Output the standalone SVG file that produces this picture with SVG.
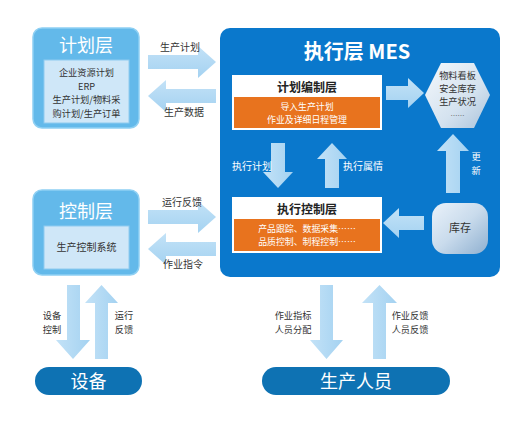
<svg xmlns="http://www.w3.org/2000/svg" width="517" height="422" viewBox="0 0 517 422">
<defs>
<linearGradient id="arrH" x1="0" y1="0" x2="0" y2="1"><stop offset="0" stop-color="#c3e2f7"/><stop offset="1" stop-color="#a4d2f1"/></linearGradient>
<linearGradient id="arrV" x1="0" y1="0" x2="1" y2="0"><stop offset="0" stop-color="#c3e2f7"/><stop offset="1" stop-color="#a4d2f1"/></linearGradient>
<linearGradient id="hex" x1="0" y1="0" x2="1" y2="1"><stop offset="0" stop-color="#f4f8fc"/><stop offset="0.6" stop-color="#d4e2ef"/><stop offset="1" stop-color="#a9c2da"/></linearGradient>
<linearGradient id="kc" x1="0" y1="0" x2="1" y2="1"><stop offset="0" stop-color="#eaf2fa"/><stop offset="0.5" stop-color="#c9dbec"/><stop offset="1" stop-color="#8fb0d0"/></linearGradient>
<style>
.cj{font-family:"Noto Sans CJK SC","Noto Sans",sans-serif;text-anchor:middle}
.lbl{font-size:10px;fill:#333}
.ml{font-size:9.2px;fill:#333}
.wl{font-size:10px;fill:#fff}
.ttl{font-size:18px;fill:#fff}
.inner{font-size:9.2px;fill:#333}
.sub{font-size:12px;font-weight:bold;fill:#222}
.or{font-size:8.9px;fill:#fff}
.ah{fill:url(#arrH)}
.av{fill:url(#arrV)}
.outer{fill:#63b9ea;stroke:#8fd0f3;stroke-width:1.5}
.in{fill:#cfe7f8;stroke:#8fcbef;stroke-width:1}
</style>
</defs>
<rect width="517" height="422" fill="#fff"/>

<g id="plan-layer">
<rect class="outer" x="33" y="28" width="106" height="100" rx="9"/>
<text class="cj ttl" x="86" y="52">计划层</text>
<rect class="in" x="44" y="60" width="85" height="63"/>
<text class="cj inner" x="86.5" y="76">企业资源计划</text>
<text class="cj inner" x="86.5" y="89.5">ERP</text>
<text class="cj inner" x="86.5" y="103">生产计划/物料采</text>
<text class="cj inner" x="86.5" y="116.5">购计划/生产订单</text>
</g>

<g id="control-layer">
<rect class="outer" x="33" y="190" width="106" height="85" rx="9"/>
<text class="cj ttl" x="86" y="218">控制层</text>
<rect class="in" x="44" y="226" width="85" height="43"/>
<text class="cj" x="86.5" y="251" font-size="10" fill="#333">生产控制系统</text>
</g>

<g id="mes">
<rect x="220" y="28" width="280" height="249" rx="10" fill="#0a78cc"/>
<text class="cj" x="357" y="59" font-size="20" font-weight="bold" fill="#fff">执行层 MES</text>
</g>

<g id="plan-edit">
<rect x="232" y="75" width="150" height="55" fill="#fff"/>
<rect x="234" y="97" width="146" height="31" fill="#e8731e"/>
<text class="cj sub" x="307" y="92">计划编制层</text>
<text class="cj or" x="307" y="110">导入生产计划</text>
<text class="cj or" x="307" y="123">作业及详细日程管理</text>
</g>

<g id="exec-control">
<rect x="232" y="197" width="150" height="56" fill="#fff"/>
<rect x="234" y="219" width="146" height="32" fill="#e8731e"/>
<text class="cj sub" x="307" y="214">执行控制层</text>
<text class="cj or" x="307" y="232">产品跟踪、数据采集……</text>
<text class="cj or" x="307" y="245">品质控制、制程控制……</text>
</g>

<g id="board">
<polygon points="425,95 441,63 474,63 490,95 474,128 441,128" fill="url(#hex)"/>
<text class="cj" x="457.5" y="79" font-size="9.2" fill="#333">物料看板</text>
<text class="cj" x="457.5" y="92" font-size="9.2" fill="#333">安全库存</text>
<text class="cj" x="457.5" y="105" font-size="9.2" fill="#333">生产状况</text>
<text class="cj" x="457.5" y="118" font-size="7" fill="#666">……</text>
</g>

<g id="stock">
<rect x="432" y="203" width="56" height="51" rx="14" fill="url(#kc)"/>
<text class="cj" x="460" y="232" font-size="11" fill="#333">库存</text>
</g>

<g id="equipment">
<rect x="35" y="367" width="107" height="28" rx="14" fill="#0e72b3"/>
<text class="cj" x="88.5" y="388" font-size="18" fill="#fff">设备</text>
</g>

<g id="staff">
<rect x="262" y="367" width="188" height="28" rx="14" fill="#0e72b3"/>
<text class="cj" x="356" y="388" font-size="18" fill="#fff">生产人员</text>
</g>

<g id="connectors">
<path class="ah" d="M148,55 L198,55 L198,46 L216,62 L198,78 L198,69 L148,69 Z"/>
<path class="ah" d="M216,89 L166,89 L166,80 L148,96 L166,112 L166,103 L216,103 Z"/>
<path class="ah" d="M148,210 L198,210 L198,201 L216,217 L198,233 L198,224 L148,224 Z"/>
<path class="ah" d="M216,242 L166,242 L166,233 L148,249 L166,265 L166,256 L216,256 Z"/>

<path class="ah" d="M386,86 L408,86 L408,78 L424,93 L408,108 L408,100 L386,100 Z"/>
<path class="ah" d="M424,216 L399,216 L399,208 L383,223 L399,238 L399,230 L424,230 Z"/>
<path class="av" d="M271,143 L285,143 L285,172 L293,172 L278,188 L263,172 L271,172 Z"/>
<path class="av" d="M325,188 L339,188 L339,159 L347,159 L332,143 L317,159 L325,159 Z"/>
<path class="av" d="M446,193 L460,193 L460,151 L469,151 L453,134 L437,151 L446,151 Z"/>

<path class="av" d="M67,285 L80,285 L80,340 L90,340 L73,359 L56,340 L67,340 Z"/>
<path class="av" d="M95,359 L108,359 L108,303 L118,303 L101.5,285 L85,303 L95,303 Z"/>
<path class="av" d="M320,285 L333,285 L333,340 L343,340 L326.5,359 L310,340 L320,340 Z"/>
<path class="av" d="M373,359 L386,359 L386,303 L397,303 L379.5,285 L362,303 L373,303 Z"/>

<text class="cj lbl" x="180" y="51">生产计划</text>
<text class="cj lbl" x="184" y="116">生产数据</text>
<text class="cj lbl" x="182" y="206">运行反馈</text>
<text class="cj lbl" x="183" y="268">作业指令</text>
<text class="cj wl" x="252" y="170">执行计划</text>
<text class="cj wl" x="363" y="170">执行属情</text>
<text class="cj" x="476" y="160" font-size="9.2" fill="#fff">更</text>
<text class="cj" x="476" y="173.5" font-size="9.2" fill="#fff">新</text>
<text class="cj ml" x="52" y="319">设备</text>
<text class="cj ml" x="52" y="332.5">控制</text>
<text class="cj ml" x="124" y="319">运行</text>
<text class="cj ml" x="124" y="332.5">反馈</text>
<text class="cj ml" x="293" y="319">作业指标</text>
<text class="cj ml" x="293" y="332.5">人员分配</text>
<text class="cj ml" x="410" y="319">作业反馈</text>
<text class="cj ml" x="410" y="332.5">人员反馈</text>
</g>
</svg>
